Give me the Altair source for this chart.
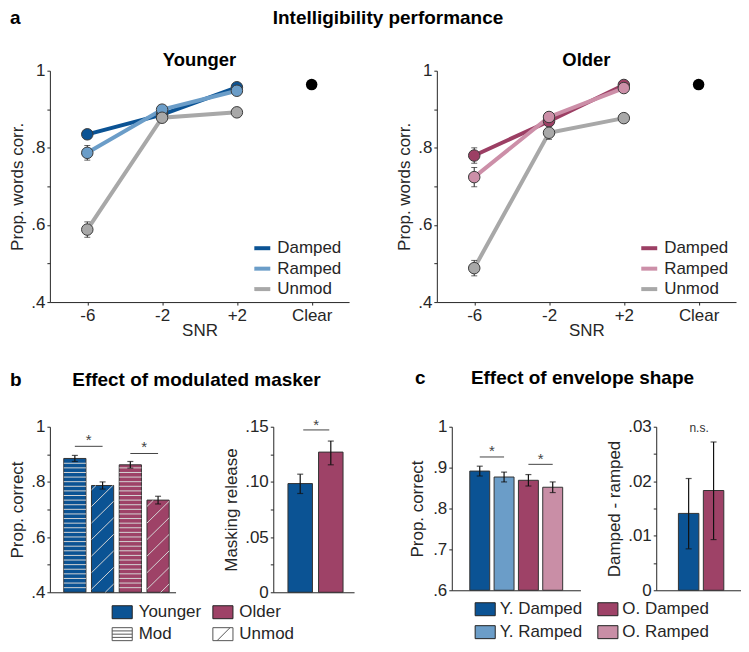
import altair as alt
import numpy as np
import pandas as pd

FONT = "Liberation Sans"
INK = "#262626"

# ---------------- panel a : intelligibility ----------------
snr_levels = ["-6", "-2", "+2", "Clear"]
snr_noisy = ["-6", "-2", "+2"]
conditions = ["Damped", "Ramped", "Unmod"]

young_damped = [0.835, 0.886, 0.957]
young_ramped = [0.787, 0.899, 0.948]
young_unmod = [0.588, 0.878, 0.892]
young_damped_err = [0.008, 0.007, 0.006]
young_ramped_err = [0.019, 0.009, 0.007]
young_unmod_err = [0.020, 0.009, 0.008]
young_clear = [0.964]

old_damped = [0.780, 0.869, 0.963]
old_ramped = [0.724, 0.880, 0.955]
old_unmod = [0.488, 0.839, 0.877]
old_damped_err = [0.020, 0.010, 0.006]
old_ramped_err = [0.025, 0.009, 0.007]
old_unmod_err = [0.020, 0.017, 0.008]
old_clear = [0.964]

a_ytick_values = [0.4, 0.5, 0.6, 0.7, 0.8, 0.9, 1.0]
a_ytick_labels = [".4", "", ".6", "", ".8", "", "1"]

young_colors = ["#0b5394", "#6b9dc8", "#a8a8a8"]
old_colors = ["#9c3f64", "#cc8fa8", "#a8a8a8"]

# ---------------- panel b : modulated masker ----------------
b_groups = ["Younger", "Younger", "Older", "Older"]
b_patterns = ["Mod", "Unmod", "Mod", "Unmod"]
b_values = [0.885, 0.787, 0.862, 0.734]
b_err = [0.011, 0.013, 0.012, 0.014]
b_bracket_from = [1, 3]
b_bracket_to = [2, 4]
b_bracket_y = [0.929, 0.903]
b_star_y = [0.959, 0.932]
b_ytick_values = [0.4, 0.5, 0.6, 0.7, 0.8, 0.9, 1.0]
b_ytick_labels = [".4", "", ".6", "", ".8", "", "1"]

release_groups = ["Younger", "Older"]
release_values = [0.0985, 0.127]
release_lo = [0.0895, 0.1155]
release_hi = [0.107, 0.137]
release_bracket_from = [1.1]
release_bracket_to = [1.95]
release_bracket_y = [0.1471]
release_star_y = [0.1532]
release_ytick_values = [0.0, 0.025, 0.05, 0.075, 0.1, 0.125, 0.15]
release_ytick_labels = ["0", "", ".05", "", ".10", "", ".15"]

group_names = ["Younger", "Older"]
group_colors = ["#0b5394", "#9e4267"]

# ---------------- panel c : envelope shape ----------------
c_labels = ["Y. Damped", "Y. Ramped", "O. Damped", "O. Ramped"]
c_values = [0.8915, 0.877, 0.869, 0.852]
c_err = [0.012, 0.012, 0.014, 0.013]
c_colors = ["#0b5394", "#6b9dc8", "#9e4267", "#c98ea6"]
c_bracket_from = [1, 3]
c_bracket_to = [2, 4]
c_bracket_y = [0.926, 0.908]
c_star_y = [0.945, 0.927]
c_ytick_values = [0.6, 0.7, 0.8, 0.9, 1.0]
c_ytick_labels = [".6", ".7", ".8", ".9", "1"]

diff_groups = ["Younger", "Older"]
diff_values = [0.0141, 0.0183]
diff_lo = [0.0076, 0.0093]
diff_hi = [0.0205, 0.0272]
diff_note = ["n.s."]
diff_note_x = [1.42]
diff_note_y = [0.0291]
diff_ytick_values = [0.0, 0.005, 0.01, 0.015, 0.02, 0.025, 0.03]
diff_ytick_labels = ["0", "", ".01", "", ".02", "", ".03"]

# ---------------- sizes / styles ----------------
A_W, A_H = 300, 232
B1_W, B2_W, B_H = 126, 81, 166
C1_W, C2_W, C_H = 129, 85, 164

RECT_PATH = "M-1.55,-1H1.55V1H-1.55Z"
MOD_PATH = ("M-1.55,-1H1.55V1H-1.55Z M-1.55,-0.5H1.55 M-1.55,0H1.55 M-1.55,0.5H1.55")
UNMOD_PATH = "M-1.55,-1H1.55V1H-1.55Z M-0.9,1L1.1,-1"


def tick_expr(values, labels):
    parts = [f"abs(datum.value - {v}) < 1e-6 ? '{l}'" for v, l in zip(values, labels) if l]
    return " : ".join(parts) + " : ''"


def y_axis(title, values, labels, title_pad):
    return alt.Axis(title=title, values=values, labelExpr=tick_expr(values, labels),
                    titlePadding=title_pad)


X_PLAIN = alt.Axis(title=None, labels=False, ticks=False, grid=False)


def note(text, x, y, size, weight="normal", align="left"):
    return alt.Chart(pd.DataFrame({"t": [text]})).mark_text(
        align=align, baseline="alphabetic", font=FONT, fontSize=size,
        fontWeight=weight, color="black"
    ).encode(x=alt.value(x), y=alt.value(y), text="t:N")


# ---------------- panel a builder ----------------
def intelligibility(values, errs, clear_val, colors, extra, legend_x, legend_y):
    rows = []
    for cond, vals, es in zip(conditions, values, errs):
        for s, v, e in zip(snr_noisy, vals, es):
            rows.append({"snr": s, "cond": cond, "value": v, "lo": v - e, "hi": v + e})
    df = pd.DataFrame(rows)
    clear_df = pd.DataFrame({"snr": ["Clear"], "value": clear_val})
    x = alt.X("snr:O", sort=snr_levels,
              scale=alt.Scale(type="point", domain=snr_levels, padding=0.5),
              axis=alt.Axis(title="SNR", labelAngle=0, titlePadding=0))
    ysc = alt.Scale(domain=[0.4, 1.0], nice=False, zero=False)
    yax = y_axis("Prop. words corr.", a_ytick_values, a_ytick_labels, 4)
    base = alt.Chart(df)
    lines = base.mark_line(strokeWidth=4).encode(
        x=x, y=alt.Y("value:Q", scale=ysc, axis=yax),
        color=alt.Color("cond:N", scale=alt.Scale(domain=conditions, range=colors),
                        legend=alt.Legend(title=None, orient="none", legendX=legend_x,
                                          legendY=legend_y, symbolType="stroke",
                                          symbolSize=256, symbolStrokeWidth=4,
                                          labelFont=FONT, labelFontSize=17, labelColor=INK,
                                          labelOffset=5, rowPadding=2.5, padding=0)))
    err = base.mark_rule(color=INK, strokeWidth=1).encode(
        x=x, y=alt.Y("lo:Q", scale=ysc, axis=yax), y2="hi:Q")
    cap_lo = base.mark_tick(orient="horizontal", size=6, thickness=1, color=INK).encode(
        x=x, y=alt.Y("lo:Q", scale=ysc, axis=yax))
    cap_hi = base.mark_tick(orient="horizontal", size=6, thickness=1, color=INK).encode(
        x=x, y=alt.Y("hi:Q", scale=ysc, axis=yax))
    pts = base.mark_circle(size=133, opacity=1, stroke="#3a3a3a", strokeWidth=1).encode(
        x=x, y=alt.Y("value:Q", scale=ysc, axis=yax),
        fill=alt.Fill("cond:N", scale=alt.Scale(domain=conditions, range=colors), legend=None))
    clear = alt.Chart(clear_df).mark_circle(size=133, opacity=1, color="black").encode(
        x=x, y=alt.Y("value:Q", scale=ysc, axis=yax))
    return alt.layer(lines, err, cap_lo, cap_hi, pts, clear, *extra).properties(
        width=A_W, height=A_H)


a_leg_x, a_leg_y = 203, 168
a1 = intelligibility([young_damped, young_ramped, young_unmod],
                     [young_damped_err, young_ramped_err, young_unmod_err],
                     young_clear, young_colors,
                     [note("a", -40, -47, 19, "bold"),
                      note("Intelligibility performance", 339, -47, 19, "bold", "center"),
                      note("Younger", 150, -5, 18.5, "bold", "center")],
                     a_leg_x, a_leg_y)
a2 = intelligibility([old_damped, old_ramped, old_unmod],
                     [old_damped_err, old_ramped_err, old_unmod_err],
                     old_clear, old_colors,
                     [note("Older", 150, -5, 18.5, "bold", "center")],
                     a_leg_x, a_leg_y)


# ---------------- bar helpers ----------------
def hatch_segments(center, top, base, half, rise, spacing):
    segs = []
    y0 = base - rise + spacing * 0.5
    while y0 < top:
        xa, ya, xb, yb = center - half, y0, center + half, y0 + rise
        if ya < base:
            xa += (base - ya) / rise * 2 * half
            ya = base
        if yb > top:
            xb -= (yb - top) / rise * 2 * half
            yb = top
        if xb > xa:
            segs.append({"x0": xa, "x1": xb, "y0": ya, "y1": yb})
        y0 += spacing
    return segs


def bar_layers(df, xdom, ydom, yax, color, half, cap=6):
    xs = alt.Scale(domain=xdom, nice=False, zero=False)
    ys = alt.Scale(domain=ydom, nice=False, zero=False)
    df = df.copy()
    df["left"] = df["pos"] - half
    df["right"] = df["pos"] + half
    base = alt.Chart(df)
    bars = base.mark_rect(stroke="#333333", strokeWidth=1).encode(
        x=alt.X("left:Q", scale=xs, axis=X_PLAIN), x2="right:Q",
        y=alt.Y("value:Q", scale=ys, axis=yax), y2=alt.datum(ydom[0]), color=color)
    err = base.mark_rule(color="#111111", strokeWidth=1.2).encode(
        x=alt.X("pos:Q", scale=xs, axis=X_PLAIN),
        y=alt.Y("lo:Q", scale=ys, axis=yax), y2="hi:Q")
    caps = [base.mark_tick(orient="horizontal", size=cap, thickness=1.2, color="#111111").encode(
        x=alt.X("pos:Q", scale=xs, axis=X_PLAIN), y=alt.Y(f"{f}:Q", scale=ys, axis=yax))
        for f in ("lo", "hi")]
    return xs, ys, bars, err, caps


def brackets(xs, ys, yax, x_from, x_to, y_line, y_star):
    df = pd.DataFrame({"a": x_from, "b": x_to, "y": y_line, "s": y_star})
    df["m"] = (df["a"] + df["b"]) / 2
    df["t"] = "*"
    br = alt.Chart(df).mark_rule(color="#444444", strokeWidth=1).encode(
        x=alt.X("a:Q", scale=xs, axis=X_PLAIN), x2="b:Q", y=alt.Y("y:Q", scale=ys, axis=yax))
    st = alt.Chart(df).mark_text(font=FONT, fontSize=15, color="#444444", baseline="alphabetic",
                                 dy=7).encode(
        x=alt.X("m:Q", scale=xs, axis=X_PLAIN), y=alt.Y("s:Q", scale=ys, axis=yax), text="t:N")
    return [br, st]


def box_legend(x, y, col_pad, **kw):
    return alt.Legend(title=None, orient="none", legendX=x, legendY=y, columns=2,
                      columnPadding=col_pad, symbolSize=169, symbolStrokeWidth=1,
                      labelFont=FONT, labelFontSize=17, labelColor=INK,
                      padding=0, **kw)


# ---------------- b1 ----------------
b1_df = pd.DataFrame({"group": b_groups, "pattern": b_patterns, "value": b_values, "err": b_err})
b1_df["pos"] = np.arange(1, len(b1_df) + 1)
b1_df["lo"] = b1_df["value"] - b1_df["err"]
b1_df["hi"] = b1_df["value"] + b1_df["err"]
B1_XDOM = [0.1, 4.63]
B1_YDOM = [0.4, 1.0]
b1_yax = y_axis("Prop. correct", b_ytick_values, b_ytick_labels, 4)
b_leg_x, b_leg_y1, b_leg_y2 = 64, 177.5, 199.5
b1_color = alt.Color("group:N", scale=alt.Scale(domain=group_names, range=group_colors),
                     legend=box_legend(b_leg_x, b_leg_y1, 9, symbolType=RECT_PATH,
                                       symbolStrokeColor="#222222", labelOffset=8))
xs, ys, bars, err, caps = bar_layers(b1_df, B1_XDOM, B1_YDOM, b1_yax, b1_color, 0.4)

stripe_rows, hatch_rows = [], []
STRIPE_STEP = 0.0167
for _, r in b1_df.iterrows():
    if r["pattern"] == "Mod":
        for yv in np.arange(B1_YDOM[0] + STRIPE_STEP, r["value"] - 0.004, STRIPE_STEP):
            stripe_rows.append({"x0": r["pos"] - 0.4, "x1": r["pos"] + 0.4, "y": yv})
    else:
        hatch_rows += hatch_segments(r["pos"], r["value"], B1_YDOM[0], 0.4, 0.079, 0.06)
stripes = alt.Chart(pd.DataFrame(stripe_rows)).mark_rule(color="#d4d4d4", strokeWidth=1).encode(
    x=alt.X("x0:Q", scale=xs, axis=X_PLAIN), x2="x1:Q", y=alt.Y("y:Q", scale=ys, axis=b1_yax))
hatch = alt.Chart(pd.DataFrame(hatch_rows)).mark_rule(color="#d4d4d4", strokeWidth=1).encode(
    x=alt.X("x0:Q", scale=xs, axis=X_PLAIN), x2="x1:Q",
    y=alt.Y("y0:Q", scale=ys, axis=b1_yax), y2="y1:Q")
pattern_key = alt.Chart(b1_df).mark_point(opacity=0, color="#555555", size=169).encode(
    x=alt.X("pos:Q", scale=xs, axis=X_PLAIN), y=alt.Y("value:Q", scale=ys, axis=b1_yax),
    shape=alt.Shape("pattern:N", scale=alt.Scale(domain=["Mod", "Unmod"],
                                                 range=[MOD_PATH, UNMOD_PATH]),
                    legend=box_legend(b_leg_x, b_leg_y2, 38, symbolStrokeColor="#555555",
                                      symbolFillColor="white", symbolOpacity=1,
                                      labelOffset=8)))
b1 = alt.layer(bars, stripes, hatch, err, *caps,
               *brackets(xs, ys, b1_yax, b_bracket_from, b_bracket_to, b_bracket_y, b_star_y),
               pattern_key,
               note("b", -40, -40.5, 19, "bold"),
               note("Effect of modulated masker", 147, -40.5, 19, "bold", "center")
               ).properties(width=B1_W, height=B_H)

# ---------------- b2 ----------------
b2_df = pd.DataFrame({"group": release_groups, "value": release_values,
                      "lo": release_lo, "hi": release_hi})
b2_df["pos"] = np.arange(1, len(b2_df) + 1)
b2_yax = y_axis("Masking release", release_ytick_values, release_ytick_labels, 4)
b2_color = alt.Color("group:N", scale=alt.Scale(domain=group_names, range=group_colors), legend=None)
xs2, ys2, bars2, err2, caps2 = bar_layers(b2_df, [0.12, 2.76], [0.0, 0.15], b2_yax, b2_color, 0.4)
b2 = alt.layer(bars2, err2, *caps2,
               *brackets(xs2, ys2, b2_yax, release_bracket_from, release_bracket_to,
                         release_bracket_y, release_star_y)
               ).properties(width=B2_W, height=B_H)

# ---------------- c1 ----------------
c1_df = pd.DataFrame({"label": c_labels, "value": c_values, "err": c_err})
c1_df["pos"] = np.arange(1, len(c1_df) + 1)
c1_df["lo"] = c1_df["value"] - c1_df["err"]
c1_df["hi"] = c1_df["value"] + c1_df["err"]
c1_yax = y_axis("Prop. correct", c_ytick_values, c_ytick_labels, 6)
c_leg_x, c_leg_y = 25, 174.5
c1_color = alt.Color("label:N", scale=alt.Scale(domain=c_labels, range=c_colors),
                     legend=box_legend(c_leg_x, c_leg_y, 13, rowPadding=5,
                                       symbolType=RECT_PATH, symbolStrokeColor="#222222",
                                       labelOffset=6))
xs3, ys3, bars3, err3, caps3 = bar_layers(c1_df, [-0.15, 5.14], [0.6, 1.0], c1_yax, c1_color, 0.41)
c1 = alt.layer(bars3, err3, *caps3,
               *brackets(xs3, ys3, c1_yax, c_bracket_from, c_bracket_to, c_bracket_y, c_star_y),
               note("c", -37, -42.5, 19, "bold"),
               note("Effect of envelope shape", 131, -42.5, 19, "bold", "center")
               ).properties(width=C1_W, height=C_H)

# ---------------- c2 ----------------
c2_df = pd.DataFrame({"group": diff_groups, "value": diff_values, "lo": diff_lo, "hi": diff_hi})
c2_df["pos"] = np.arange(1, len(c2_df) + 1)
c2_yax = y_axis("Damped - ramped", diff_ytick_values, diff_ytick_labels, 4)
c2_color = alt.Color("group:N", scale=alt.Scale(domain=group_names, range=group_colors), legend=None)
xs4, ys4, bars4, err4, caps4 = bar_layers(c2_df, [-0.3, 3.1], [0.0, 0.03], c2_yax, c2_color, 0.41)
ns_df = pd.DataFrame({"t": diff_note, "x": diff_note_x, "y": diff_note_y})
ns = alt.Chart(ns_df).mark_text(font=FONT, fontSize=12, color="#333333", baseline="alphabetic",
                                align="center").encode(
    x=alt.X("x:Q", scale=xs4, axis=X_PLAIN), y=alt.Y("y:Q", scale=ys4, axis=c2_yax), text="t:N")
c2 = alt.layer(bars4, err4, *caps4, ns).properties(width=C2_W, height=C_H)

# ---------------- layout ----------------
row1 = alt.hconcat(a1, a2, spacing=88, bounds="flush").resolve_scale(
    color="independent", fill="independent")
group_b = alt.hconcat(b1, b2, spacing=98, bounds="flush").resolve_scale(
    color="independent", shape="independent")
group_c = alt.hconcat(c1, c2, spacing=76, bounds="flush").resolve_scale(color="independent")
row2 = alt.hconcat(group_b, group_c, spacing=54).resolve_scale(
    color="independent", shape="independent")

chart = alt.vconcat(row1, row2, spacing=30).resolve_scale(
    color="independent", fill="independent", shape="independent"
).properties(padding=0, background="white").configure_view(stroke=None).configure_axis(
    labelFont=FONT, titleFont=FONT, labelFontSize=17, titleFontSize=17,
    titleFontWeight="normal", labelColor=INK, titleColor=INK, domainColor=INK,
    tickColor=INK, tickSize=3, labelPadding=2, grid=False, domainWidth=1, tickWidth=1
).configure_legend(labelFont=FONT, labelFontSize=17, labelColor=INK).configure_text(font=FONT)

chart.save("out.html", embed_options={"renderer": "svg", "actions": False})
